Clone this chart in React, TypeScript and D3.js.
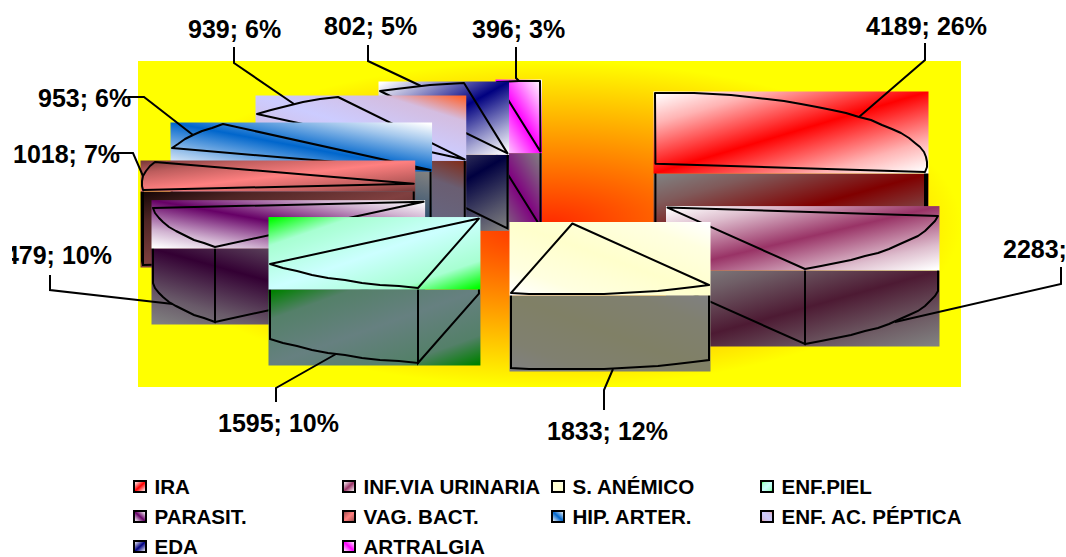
import React from "react";
import * as d3 from "d3";

const categories = ["IRA", "INF.VIA URINARIA", "S. ANÉMICO", "ENF.PIEL", "PARASIT.", "VAG. BACT.", "HIP. ARTER.", "ENF. AC. PÉPTICA", "EDA", "ARTRALGIA"];
const values = [4189, 2283, 1833, 1595, 1479, 1018, 953, 939, 802, 396];
const percents = [26, 14, 12, 10, 10, 7, 6, 6, 5, 3];
const topStops = [
  ["#ffffff", "#ff0000", "#ffffff"],
  ["#ffffff", "#993366", "#ffffff"],
  ["#ffffff", "#ffffcc", "#ffffff"],
  ["#00ff00", "#ccffff", "#00ff00"],
  ["#ffffff", "#660066", "#ffffff"],
  ["#7a3a3a", "#ff8080", "#7a3a3a"],
  ["#ffffff", "#0066cc", "#ffffff"],
  ["#ff6633", "#ccccff", "#ff6633"],
  ["#ffffff", "#000080", "#ffffff"],
  ["#ffffff", "#ff00ff", "#ffffff"],
];
const sideStops = [
  ["#808080", "#800000", "#808080"],
  ["#808080", "#4d1a33", "#808080"],
  ["#808080", "#808066", "#808080"],
  ["#008000", "#668080", "#008000"],
  ["#808080", "#330033", "#808080"],
  ["#1a0808", "#804040", "#1a0808"],
  ["#808080", "#003366", "#808080"],
  ["#803020", "#666680", "#803020"],
  ["#808080", "#000040", "#808080"],
  ["#808080", "#800080", "#808080"],
];
// how far the centre colour has spread at 60% of the way to the corner
const bandSpread = [0.3, 0.32, 0.6, 0.82, 0.3, 0.5, 0.35, 0.85, 0.35, 0.35];
// gradient axis: false = top-left to bottom-right, true = bottom-left to top-right
const flipped = [false, false, true, false, true, false, true, true, false, true];
const drawOrder = [9, 8, 7, 6, 5, 4, 3, 0, 1, 2];

// label text start, baseline, and leader elbow points (label end first)
const labelX = [866, 1003, 547, 218, -9, 13, 38, 188, 324, 472];
const labelY = [35, 258, 440, 432, 264, 163, 107, 38, 35, 38];
const elbows: [number, number][][] = [
  [[925, 43], [925, 60]],
  [[1061, 267], [1061, 284]],
  [[604, 410], [604, 390]],
  [[276, 402], [276, 388]],
  [[50, 275], [50, 290]],
  [[117, 153], [133, 153]],
  [[128, 97], [144, 97]],
  [[234, 47], [234, 63]],
  [[368, 45], [368, 61]],
  [[516, 47], [516, 78]],
];

const W = 1066, H = 557;
const cx = 551.6, cy = 187.7, rx = 272, ry = 71, depth = 76, explode = 0.51;
const font = "'Liberation Sans', Arial, sans-serif";
const deg = Math.PI / 180;

const arcs = d3.pie<number>().sort(null).value((d) => d)(values);
const line = d3.line<[number, number]>().x((d) => d[0]).y((d) => d[1]).curve(d3.curveLinear);
// small correction of the drawn angle for the chart's 3D projection
const project = d3.scaleLinear()
  .domain([0, 150.4 * deg, 193 * deg, 360 * deg])
  .range([0, 149.7 * deg, 193 * deg, 360 * deg]);

function geometry(i: number) {
  const a0 = project(arcs[i].startAngle), a1 = project(arcs[i].endAngle), mid = (a0 + a1) / 2;
  const c: [number, number] = [cx + rx * explode * Math.sin(mid), cy - ry * explode * Math.cos(mid)];
  const at = (t: number): [number, number] => [Math.round(c[0] + rx * Math.sin(t)), Math.round(c[1] - ry * Math.cos(t))];
  const steps = Math.max(2, Math.round((a1 - a0) / 0.07));
  const samples = d3.range(steps + 1).map((k) => a0 + ((a1 - a0) * k) / steps);
  const rim = samples.map(at);
  const pts = [c, ...rim];
  const [x0, x1] = d3.extent(pts, (p) => p[0]) as [number, number];
  const [y0, y1] = d3.extent(pts, (p) => p[1]) as [number, number];
  const down = (p: [number, number]): [number, number] => [p[0], p[1] + depth - 1];
  const walls: [number, number][][] = [];
  if (Math.sin(a0) < -1e-6) walls.push([c, down(c), down(rim[0]), rim[0]]);
  if (Math.sin(a1) > 1e-6) walls.push([c, down(c), down(rim[rim.length - 1]), rim[rim.length - 1]]);
  const front = samples.filter((t) => Math.cos(t) < 0).map(at);
  if (front.length > 1) walls.push([front[0], ...front.map(down), front[front.length - 1]]);
  const m = at(mid);
  const anchor: [number, number] = Math.cos(mid) < 0 ? down(m) : m;
  return { c, rim, x0, x1, y0, y1, walls, anchor };
}

const geos = values.map((_, i) => geometry(i));
const pad = 1.5;

function Grad({ id, stops, flip, spread }: { id: string; stops: string[]; flip: boolean; spread: number }) {
  const edge = d3.interpolateRgb(stops[1], stops[0])(1 - spread);
  const rows: [number, string][] = [
    [0.02, stops[0]],
    [0.2, edge],
    [0.5, stops[1]],
    [0.8, edge],
    [0.98, stops[2]],
  ];
  return (
    <linearGradient id={id} x1="0" y1={flip ? "1" : "0"} x2="1" y2={flip ? "0" : "1"}>
      {rows.map(([o, s], i) => (
        <stop key={i} offset={o} stopColor={s} />
      ))}
    </linearGradient>
  );
}

const legendX = [134, 343, 552, 761];
const legendBaseline = [494, 524, 554];

export default function App() {
  return (
    <svg width={W} height={H} style={{ position: "absolute", left: 0, top: 0, display: "block" }} fontFamily={font}>
      <defs>
        <radialGradient id="bg" cx="0.5" cy="0.5" r="0.5">
          <stop offset="0" stopColor="#ff2a00" />
          <stop offset="1" stopColor="#ffff00" />
        </radialGradient>
        {values.map((_, i) => (
          <React.Fragment key={i}>
            <Grad id={`t${i}`} stops={topStops[i]} flip={flipped[i]} spread={bandSpread[i]} />
            <Grad id={`s${i}`} stops={sideStops[i]} flip={flipped[i]} spread={bandSpread[i]} />
          </React.Fragment>
        ))}
        <clipPath id="lclip">
          <rect x={12} y={0} width={W} height={H} />
        </clipPath>
      </defs>

      <rect x={138} y={61} width={823} height={326} fill="url(#bg)" />

      {drawOrder.map((i) => {
        const g = geos[i];
        const w = g.x1 - g.x0 + pad * 2;
        const yTop = g.y0 - pad;
        const yMid = g.y1 + pad;
        return (
          <g key={i}>
            <rect x={g.x0 - pad} y={yMid} width={w} height={depth} fill={`url(#s${i})`} />
            {g.walls.map((wall, k) => (
              <path key={k} d={line(wall) as string} fill="none" stroke="#000" strokeWidth={2} />
            ))}
            <rect x={g.x0 - pad} y={yTop} width={w} height={yMid - yTop} fill={`url(#t${i})`} />
            <path d={(line([g.c, ...g.rim]) as string) + "Z"} fill="none" stroke="#000" strokeWidth={2} strokeLinejoin="round" />
          </g>
        );
      })}

      {values.map((v, i) => (
        <g key={i}>
          <path d={line([...elbows[i], geos[i].anchor]) as string} fill="none" stroke="#000" strokeWidth={2} />
          <text
            x={labelX[i]}
            y={labelY[i]}
            fontSize={25}
            fontWeight="bold"
            fill="#000"
            clipPath={labelX[i] < 12 ? "url(#lclip)" : undefined}
          >
            {`${v}; ${percents[i]}%`}
          </text>
        </g>
      ))}

      {categories.map((name, i) => {
        const col = i % 4, row = Math.floor(i / 4);
        const y = legendBaseline[row];
        return (
          <g key={name}>
            <rect x={legendX[col]} y={y - 13} width={12} height={11} fill={`url(#t${i})`} stroke="#000" strokeWidth={2} />
            <text x={legendX[col] + 20.5} y={y} fontSize={20.6} fontWeight="bold" fill="#000">
              {name}
            </text>
          </g>
        );
      })}
    </svg>
  );
}
